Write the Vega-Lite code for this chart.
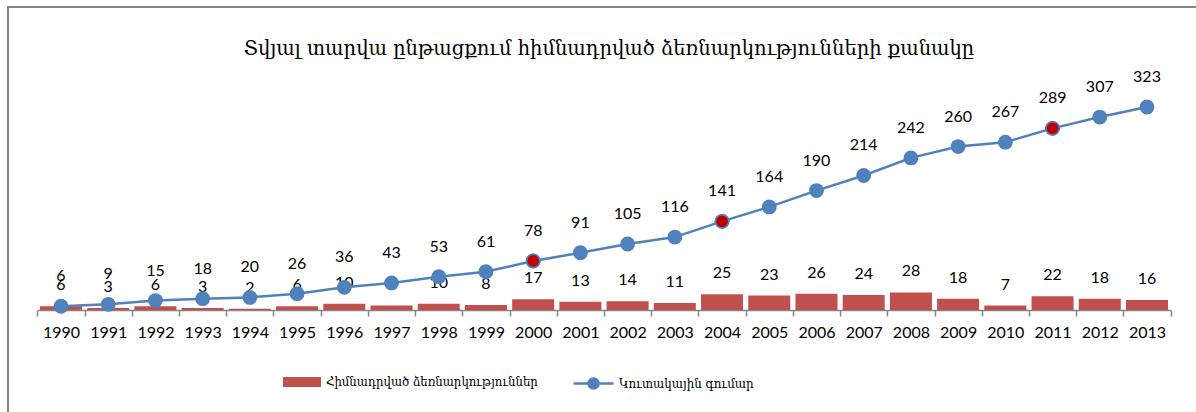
{
  "$schema": "https://vega.github.io/schema/vega-lite/v6.json",
  "width": 1196,
  "height": 420,
  "padding": {"left": 8, "top": 7, "right": 0, "bottom": 0},
  "autosize": {"type": "pad"},
  "background": "white",
  "config": {
    "view": {"stroke": "#878787", "strokeWidth": 2},
    "font": "Lato"
  },
  "title": {
    "text": "Տվյալ տարվա ընթացքում հիմնադրված ձեռնարկությունների քանակը",
    "font": "DejaVu Serif",
    "fontSize": 19.5,
    "fontWeight": "normal",
    "color": "black",
    "anchor": "middle",
    "baseline": "middle",
    "offset": -61,
    "dx": 3
  },
  "data": {
    "values": [
      {"year": "1990", "count": 6, "total": 6},
      {"year": "1991", "count": 3, "total": 9},
      {"year": "1992", "count": 6, "total": 15},
      {"year": "1993", "count": 3, "total": 18},
      {"year": "1994", "count": 2, "total": 20},
      {"year": "1995", "count": 6, "total": 26},
      {"year": "1996", "count": 10, "total": 36},
      {"year": "1997", "count": 7, "total": 43},
      {"year": "1998", "count": 10, "total": 53},
      {"year": "1999", "count": 8, "total": 61},
      {"year": "2000", "count": 17, "total": 78},
      {"year": "2001", "count": 13, "total": 91},
      {"year": "2002", "count": 14, "total": 105},
      {"year": "2003", "count": 11, "total": 116},
      {"year": "2004", "count": 25, "total": 141},
      {"year": "2005", "count": 23, "total": 164},
      {"year": "2006", "count": 26, "total": 190},
      {"year": "2007", "count": 24, "total": 214},
      {"year": "2008", "count": 28, "total": 242},
      {"year": "2009", "count": 18, "total": 260},
      {"year": "2010", "count": 7, "total": 267},
      {"year": "2011", "count": 22, "total": 289},
      {"year": "2012", "count": 18, "total": 307},
      {"year": "2013", "count": 16, "total": 323}
    ]
  },
  "encoding": {
    "x": {
      "field": "year",
      "type": "nominal",
      "sort": null,
      "scale": {"range": [29.4, 1162.6], "paddingInner": 0, "paddingOuter": 0},
      "axis": {
        "title": null,
        "labelAngle": 0,
        "labelFont": "Lato",
        "labelFontSize": 16,
        "labelColor": "black",
        "labelPadding": 8,
        "tickSize": 6,
        "tickColor": "#868686",
        "tickWidth": 1.5,
        "domainColor": "#868686",
        "domainWidth": 1.5,
        "tickBand": "extent",
        "grid": false,
        "offset": -117
      }
    }
  },
  "layer": [
    {
      "mark": {"type": "bar", "width": {"band": 0.89}},
      "encoding": {
        "y": {"field": "count", "type": "quantitative", "scale": {"domain": [-186.2, 482.1], "nice": false, "zero": false}, "axis": null},
        "y2": {"datum": 0},
        "fill": {
          "datum": "Հիմնադրված ձեռնարկություններ",
          "scale": {"range": ["#C0504D"]},
          "legend": {
            "orient": "none",
            "legendX": 275,
            "legendY": 356,
            "title": null,
            "padding": 0,
            "symbolType": "M-1,-0.26L1,-0.26L1,0.26L-1,0.26Z",
            "symbolSize": 1444,
            "symbolStrokeWidth": 0,
            "symbolOpacity": 1,
            "labelFont": "DejaVu Serif Condensed, DejaVu Serif",
            "labelFontSize": 13,
            "labelColor": "black",
            "labelOffset": 5,
            "labelLimit": 500
          }
        }
      }
    },
    {
      "mark": {"type": "text", "dy": -21, "baseline": "middle", "font": "Lato", "fontSize": 16, "color": "black"},
      "encoding": {
        "y": {"field": "count", "type": "quantitative"},
        "text": {"field": "count", "type": "quantitative"}
      }
    },
    {
      "mark": {"type": "line", "strokeWidth": 2.5},
      "encoding": {
        "y": {"field": "total", "type": "quantitative"},
        "stroke": {
          "datum": "Կուտակային գումար",
          "scale": {"range": ["#4F81BD"]},
          "legend": {
            "orient": "none",
            "legendX": 564,
            "legendY": 355,
            "title": null,
            "padding": 0,
            "symbolType": "M-1,0L1,0M0.25,0A0.25,0.25 0 1 1 -0.25,0A0.25,0.25 0 1 1 0.25,0Z",
            "symbolSize": 1600,
            "symbolStrokeWidth": 2.5,
            "symbolFillColor": "#4F81BD",
            "symbolOpacity": 1,
            "labelFont": "DejaVu Serif Condensed, DejaVu Serif",
            "labelFontSize": 13.2,
            "labelColor": "black",
            "labelOffset": 4,
            "labelLimit": 500,
            "encode": {"symbols": {"update": {"fill": {"value": "#4F81BD"}, "stroke": {"value": "#4F81BD"}}}}
          }
        }
      }
    },
    {
      "mark": {"type": "point", "shape": "circle", "filled": true, "size": 220, "color": "#4F81BD", "opacity": 1},
      "encoding": {
        "y": {"field": "total", "type": "quantitative"}
      }
    },
    {
      "transform": [{"filter": "datum.year == '2000' || datum.year == '2004' || datum.year == '2011'"}],
      "mark": {"type": "point", "shape": "circle", "filled": true, "size": 175, "fill": "#C00000", "stroke": "#4F81BD", "strokeWidth": 1.5, "opacity": 1},
      "encoding": {
        "y": {"field": "total", "type": "quantitative"}
      }
    },
    {
      "mark": {"type": "text", "dy": -30, "baseline": "middle", "font": "Lato", "fontSize": 16, "color": "black"},
      "encoding": {
        "y": {"field": "total", "type": "quantitative"},
        "text": {"field": "total", "type": "quantitative"}
      }
    }
  ]
}
